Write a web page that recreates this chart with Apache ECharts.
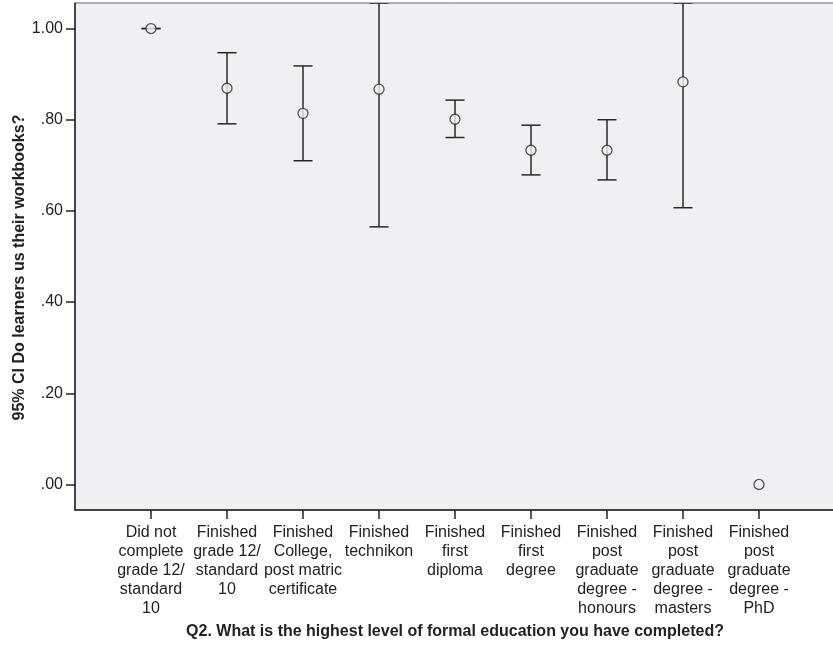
<!DOCTYPE html>
<html>
<head>
<meta charset="utf-8">
<script src="https://cdn.jsdelivr.net/npm/echarts@6/dist/echarts.min.js"></script>
<style>
html,body{margin:0;padding:0;background:#fff;}
#chart{width:833px;height:646px;}
</style>
</head>
<body>
<div id="chart"></div>
<script>
var categories = [
  "Did not\ncomplete\ngrade 12/\nstandard\n10",
  "Finished\ngrade 12/\nstandard\n10",
  "Finished\nCollege,\npost matric\ncertificate",
  "Finished\ntechnikon",
  "Finished\nfirst\ndiploma",
  "Finished\nfirst\ndegree",
  "Finished\npost\ngraduate\ndegree -\nhonours",
  "Finished\npost\ngraduate\ndegree -\nmasters",
  "Finished\npost\ngraduate\ndegree -\nPhD"
];
var means = [1.00, 0.869, 0.814, 0.867, 0.801, 0.733, 0.733, 0.883, 0.00];
var lowerCI = [1.00, 0.791, 0.710, 0.565, 0.761, 0.679, 0.668, 0.607, null];
var upperCI = [1.00, 0.947, 0.918, 1.169, 0.843, 0.788, 0.800, 1.159, null];
var yTicks = [0, 0.2, 0.4, 0.6, 0.8, 1.0];
var xName = "Q2. What is the highest level of formal education you have completed?";
var yName = "95% CI Do learners us their workbooks?";

var positions = categories.map(function (c, i) { return i + 1; });
var meanData = means.map(function (m, i) { return [positions[i], m]; });
var ciData = [];
for (var i = 0; i < categories.length; i++) {
  if (lowerCI[i] !== null && upperCI[i] !== null) ciData.push([positions[i], lowerCI[i], upperCI[i]]);
}

var FONT = "'Liberation Sans', Arial, sans-serif";
var chart = echarts.init(document.getElementById('chart'));
chart.setOption({
  animation: false,
  backgroundColor: '#ffffff',
  grid: {
    left: 75, top: 3, width: 760, bottom: 136,
    outerBoundsMode: 'none', containLabel: false,
    show: true, backgroundColor: '#eff0f3', borderColor: '#666', borderWidth: 1
  },
  xAxis: {
    type: 'value', min: 0, max: 10,
    name: xName, nameLocation: 'middle', nameGap: 114, nameMoveOverlap: false,
    nameTextStyle: { fontFamily: FONT, fontWeight: 'bold', fontSize: 16, color: '#222' },
    splitLine: { show: false },
    axisLine: { show: true, onZero: false, lineStyle: { color: '#222', width: 1.5 } },
    axisTick: { show: true, length: 9, customValues: positions, lineStyle: { color: '#222', width: 1.5 } },
    axisLabel: {
      customValues: positions, margin: 13,
      fontFamily: FONT, fontSize: 16, lineHeight: 19, color: '#222', align: 'center',
      formatter: function (v) { return categories[Math.round(v) - 1] || ''; }
    }
  },
  yAxis: {
    type: 'value', min: -0.056, max: 1.056,
    name: yName, nameLocation: 'middle', nameGap: 47, nameRotate: 90, nameMoveOverlap: false,
    nameTextStyle: { fontFamily: FONT, fontWeight: 'bold', fontSize: 16, color: '#222', padding: [0, 22, 0, 0] },
    splitLine: { show: false },
    axisLine: { show: true, onZero: false, lineStyle: { color: '#222', width: 1.5 } },
    axisTick: { show: true, length: 9, customValues: yTicks, lineStyle: { color: '#222', width: 1.5 } },
    axisLabel: {
      customValues: yTicks, margin: 12,
      fontFamily: FONT, fontSize: 16, color: '#222',
      formatter: function (v) { return v.toFixed(2).replace(/^0/, ''); }
    }
  },
  series: [
    {
      type: 'custom',
      data: ciData,
      clip: true,
      renderItem: function (params, api) {
        var x = api.value(0);
        var lo = api.coord([x, api.value(1)]);
        var hi = api.coord([x, api.value(2)]);
        var top = params.coordSys.y;
        var bot = params.coordSys.y + params.coordSys.height;
        var yHi = Math.max(hi[1], top);
        var yLo = Math.min(lo[1], bot);
        var cx = lo[0];
        var hw = 9.5;
        var style = { stroke: '#2a2a2a', lineWidth: 1.5 };
        return {
          type: 'group',
          children: [
            { type: 'line', shape: { x1: cx, y1: yHi, x2: cx, y2: yLo }, style: style },
            { type: 'line', shape: { x1: cx - hw, y1: yHi, x2: cx + hw, y2: yHi }, style: style },
            { type: 'line', shape: { x1: cx - hw, y1: yLo, x2: cx + hw, y2: yLo }, style: style }
          ]
        };
      },
      z: 3
    },
    {
      type: 'scatter',
      data: meanData,
      symbol: 'circle',
      symbolSize: 10,
      itemStyle: { color: '#eff0f3', borderColor: '#2a2a2a', borderWidth: 1.3 },
      z: 4
    }
  ]
});
</script>
</body>
</html>
